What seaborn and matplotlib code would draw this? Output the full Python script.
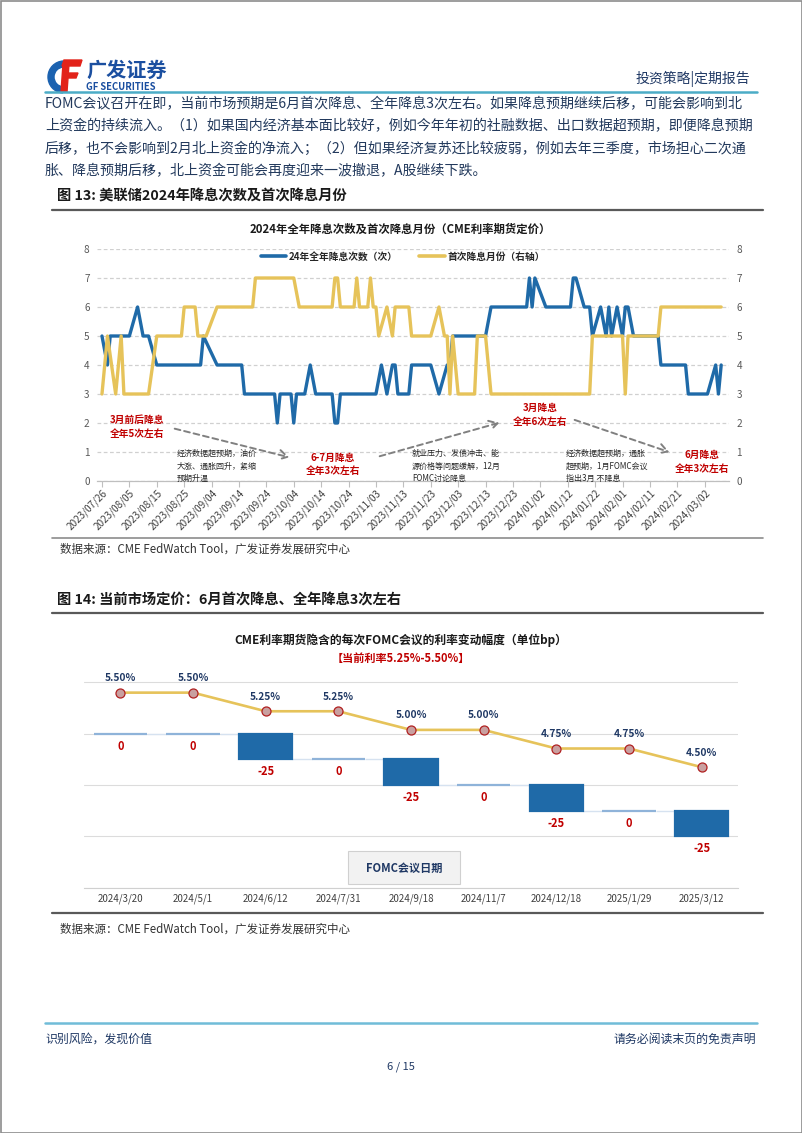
import numpy as np
import pandas as pd
import matplotlib
matplotlib.use('Agg')
import matplotlib.pyplot as plt
import matplotlib.dates as mdates
import matplotlib.patches as patches
from matplotlib.lines import Line2D
import seaborn as sns

W,H=802,1133
BLUE='#1f6aa8' ; GOLD='#e6c35a' ; RED='#c00000' ; NAVY='#1f3864' ; TXT='#22395c'

# ---- fig 13: vertices
cut_dates=['2023-07-26','2023-07-28','2023-07-29','2023-08-05','2023-08-08','2023-08-10','2023-08-12','2023-08-15',
           '2023-08-31','2023-09-01','2023-09-06','2023-09-15','2023-09-16','2023-09-27','2023-09-28','2023-09-29',
           '2023-10-03','2023-10-04','2023-10-05','2023-10-08','2023-10-10','2023-10-12','2023-10-18','2023-10-19',
           '2023-10-20','2023-10-21','2023-11-03','2023-11-05','2023-11-07','2023-11-09','2023-11-10','2023-11-11',
           '2023-11-15','2023-11-16','2023-11-23','2023-11-26','2023-11-29','2023-11-30','2023-12-01','2023-12-13',
           '2023-12-15','2023-12-28','2023-12-29','2023-12-30','2023-12-31','2024-01-04','2024-01-13','2024-01-14',
           '2024-01-15','2024-01-18','2024-01-20','2024-01-21','2024-01-24','2024-01-26','2024-01-27','2024-01-28',
           '2024-01-30','2024-02-01','2024-02-02','2024-02-03','2024-02-05','2024-02-14','2024-02-15','2024-02-24',
           '2024-02-25','2024-03-03','2024-03-06','2024-03-07','2024-03-08']
cut_counts=[5,4,5,5,6,5,5,4,
            4,5,4,4,3,3,2,3,
            3,2,3,3,4,3,3,2,
            2,3,3,4,3,4,4,3,
            3,4,4,3,4,4,5,5,
            6,6,7,6,7,6,6,7,
            7,6,6,5,6,5,6,5,
            6,5,6,6,5,5,4,4,
            3,3,4,3,4]
month_dates=['2023-07-26','2023-07-28','2023-07-31','2023-08-02','2023-08-03','2023-08-12','2023-08-15','2023-08-24',
             '2023-08-25','2023-08-29','2023-08-30','2023-09-02','2023-09-06','2023-09-19','2023-09-20','2023-10-04',
             '2023-10-06','2023-10-18','2023-10-19','2023-10-20','2023-10-21','2023-10-26','2023-10-27','2023-10-28',
             '2023-10-31','2023-11-01','2023-11-02','2023-11-03','2023-11-04','2023-11-07','2023-11-09','2023-11-10',
             '2023-11-15','2023-11-16','2023-11-23','2023-11-26','2023-11-28','2023-11-29','2023-11-30','2023-12-01',
             '2023-12-03','2023-12-09','2023-12-10','2023-12-13','2023-12-15','2024-01-20','2024-01-21','2024-02-01',
             '2024-02-02','2024-02-03','2024-02-14','2024-02-15','2024-03-08']
month_vals=[3,5,3,5,3,3,5,5,
            6,6,5,5,6,6,7,7,
            6,6,7,7,6,6,7,6,
            6,7,6,6,5,6,5,6,
            6,5,5,6,5,5,3,5,
            3,3,5,5,3,3,5,5,
            3,5,5,6,6]
cut_label='24年全年降息次数（次）'
month_label='首次降息月份（右轴）'

# ---- fig 14
fomc_dates=['2024/3/20','2024/5/1','2024/6/12','2024/7/31','2024/9/18','2024/11/7','2024/12/18','2025/1/29','2025/3/12']
bp_change=[0,0,-25,0,-25,0,-25,0,-25]
rates=[5.50,5.50,5.25,5.25,5.00,5.00,4.75,4.75,4.50]

body=['FOMC会议召开在即，当前市场预期是6月首次降息、全年降息3次左右。如果降息预期继续后移，可能会影响到北',
      '上资金的持续流入。（1）如果国内经济基本面比较好，例如今年年初的社融数据、出口数据超预期，即便降息预期',
      '后移，也不会影响到2月北上资金的净流入；（2）但如果经济复苏还比较疲弱，例如去年三季度，市场担心二次通',
      '胀、降息预期后移，北上资金可能会再度迎来一波撤退，A股继续下跌。']

sns.set_style('white')
plt.rcParams['font.family']=['Noto Sans CJK SC','DejaVu Sans']

fig=plt.figure(figsize=(W/100,H/100),dpi=100)

# ================= chart 1
ax1=fig.add_axes([96.5/W,1-481/H,(729.4-96.5)/W,(481-249)/H])
ax1.set_facecolor('none')
cut_df=pd.DataFrame({'date':pd.to_datetime(cut_dates),'n':cut_counts})
mon_df=pd.DataFrame({'date':pd.to_datetime(month_dates),'m':month_vals})
sns.lineplot(data=cut_df,x='date',y='n',ax=ax1,color=BLUE,lw=2.4,estimator=None,sort=False,legend=False)
ax1b=ax1.twinx()
sns.lineplot(data=mon_df,x='date',y='m',ax=ax1b,color=GOLD,lw=2.4,estimator=None,sort=False,legend=False)
t0=pd.Timestamp('2023-07-26')
for a in (ax1,ax1b):
    a.set_ylim(0,8) ; a.set_yticks(range(9)) ; a.set_ylabel('') ; a.set_xlabel('')
    for s in ('left','right','top'): a.spines[s].set_visible(False)
    a.spines['bottom'].set_color('#bfbfbf')
    a.tick_params(axis='y',length=0,labelsize=7.2,labelcolor='#595959',pad=5)
ax1.set_xlim(t0-pd.Timedelta(days=2),t0+pd.Timedelta(days=229))
ax1.yaxis.grid(True,ls=(0,(3,2)),color='#d0d0d0',lw=0.9) ; ax1.xaxis.grid(False)
ax1.set_axisbelow(True)
ticks=pd.date_range('2023-07-26','2024-03-02',freq='10D')
ax1.set_xticks(ticks)
ax1.xaxis.set_major_formatter(mdates.DateFormatter('%Y/%m/%d'))
ax1.tick_params(axis='x',length=4,color='#bfbfbf',labelsize=7.2,labelcolor='#404040',pad=1,bottom=True)
for lb in ax1.get_xticklabels():
    lb.set_rotation(45) ; lb.set_ha('right') ; lb.set_va('top') ; lb.set_rotation_mode('anchor')
hd=[Line2D([],[],color=BLUE,lw=2.6),Line2D([],[],color=GOLD,lw=2.6)]
ax1.legend(hd,[cut_label,month_label],loc='center',bbox_to_anchor=(0.484,0.966),ncol=2,frameon=False,
           prop={'size':7,'weight':'bold'},handlelength=2.6,columnspacing=2.2,handletextpad=0.3)

# ================= chart 2
ax2=fig.add_axes([84/W,1-887.7/H,(738-84)/W,(887.7-660)/H])
ax2.set_facecolor('none')
xs=np.arange(len(fomc_dates))
level=np.concatenate([[0],np.cumsum(bp_change)[:-1]])
bw=0.73
ends=level+np.array(bp_change)
ax2.hlines(ends[:-1],xs[:-1]+bw/2,xs[1:]-bw/2,color='#d6e2f0',lw=1.0,zorder=2)
ax2.bar(xs,bp_change,bottom=level,width=bw,color=BLUE,
        edgecolor=['#8fb3d9' if c==0 else BLUE for c in bp_change],lw=1.6,zorder=3)
for i,c in enumerate(bp_change):
    ax2.annotate(str(c),(i,ends[i]),xytext=(0,-9),textcoords='offset points',ha='center',va='center',
                 fontsize=8,weight='bold',color=RED)
ax2.set_xlim(-0.5,len(fomc_dates)-0.5) ; ax2.set_ylim(-150,71.7)
ax2.set_yticks([-150,-100,-50,0,50]) ; ax2.set_yticklabels([])
ax2.yaxis.grid(True,color='#dcdcdc',lw=0.8) ; ax2.set_axisbelow(True)
ax2.set_xticks(xs) ; ax2.set_xticklabels(fomc_dates)
ax2.tick_params(axis='x',length=0,labelsize=7,labelcolor='#404040',pad=4)
ax2.tick_params(axis='y',length=0)
for s in ('left','right','top'): ax2.spines[s].set_visible(False)
ax2.spines['bottom'].set_color('#d0d0d0')
ax2b=ax2.twinx()
sns.lineplot(x=xs,y=rates,ax=ax2b,color=GOLD,lw=1.9,marker='o',markersize=6.5,markerfacecolor='#c9a0a0',
             markeredgecolor='#b02020',markeredgewidth=0.9,legend=False)
ax2b.set_ylim(2.882,5.938) ; ax2b.axis('off')
for i,r in enumerate(rates):
    ax2b.annotate(f'{r:.2f}%',(i,r),xytext=(0,10.5),textcoords='offset points',ha='center',va='center',
                  fontsize=7.3,weight='bold',color=NAVY)

# ================= page overlay (pixel coords, y down)
ov=fig.add_axes([0,0,1,1],zorder=10)
ov.set_xlim(0,W) ; ov.set_ylim(H,0) ; ov.axis('off')
ov.add_patch(patches.Rectangle((0.5,0.5),W-1,H-1,fill=False,ec='#8c8c8c',lw=1.2))
# logo
ov.add_patch(patches.Wedge((64,77),16,95,268,width=6,color='#1b62b0'))
ov.add_patch(patches.Polygon([(64,60),(82,60),(80,66),(62,66)],color='#e2231a'))
ov.add_patch(patches.Polygon([(63,64),(69,64),(67,92),(61,92)],color='#e2231a'))
ov.add_patch(patches.Polygon([(65,73),(78,73),(76,78),(64,78)],color='#e2231a'))
ov.text(86,70,'广发证券',fontsize=14.5,weight='heavy',color='#1b4fa0',va='center')
ov.text(86,87.5,'GF SECURITIES',fontsize=6.8,weight='bold',color='#1b4fa0',va='center')
ov.text(750,79,'投资策略|定期报告',fontsize=10,color=NAVY,ha='right',va='center')
ov.plot([45,757],[92,92],color='#4bacc6',lw=1.8)
for k,ln in enumerate(body):
    ov.text(45,104+22.5*k,ln,fontsize=10.1,color=TXT,va='center')
# captions
ov.text(57,197,'图 13: 美联储2024年降息次数及首次降息月份',fontsize=10.3,weight='bold',color='#1a1a1a',va='center')
ov.plot([52,763],[210,210],color='#595959',lw=1.6)
ov.text(400,229,'2024年全年降息次数及首次降息月份（CME利率期货定价）',fontsize=8.2,weight='bold',color='#1a1a1a',ha='center',va='center')
ov.plot([52,763],[538,538],color='#8c8c8c',lw=1.2)
ov.text(60,549,'数据来源：CME FedWatch Tool，广发证券发展研究中心',fontsize=8.3,color='#333333',va='center')
ov.text(57,601,'图 14: 当前市场定价：6月首次降息、全年降息3次左右',fontsize=10.3,weight='bold',color='#1a1a1a',va='center')
ov.plot([52,763],[613,613],color='#595959',lw=1.6)
ov.text(401,640,'CME利率期货隐含的每次FOMC会议的利率变动幅度（单位bp）',fontsize=8.5,weight='bold',color='#1a1a1a',ha='center',va='center')
ov.text(401,658,'【当前利率5.25%-5.50%】',fontsize=8,weight='bold',color=RED,ha='center',va='center')
ov.add_patch(patches.Rectangle((348,851),112,33,fc='#f2f2f2',ec='#d0d0d0',lw=0.8))
ov.text(404,868,'FOMC会议日期',fontsize=8,weight='bold',color=NAVY,ha='center',va='center')
ov.plot([52,763],[913,913],color='#595959',lw=1.6)
ov.text(60,929,'数据来源：CME FedWatch Tool，广发证券发展研究中心',fontsize=8.3,color='#333333',va='center')
# chart 1 annotations
red_notes=[(137,420,'3月前后降息'),(137,434,'全年5次左右'),(333,458,'6-7月降息'),(333,471,'全年3次左右'),
           (540,408,'3月降息'),(540,422,'全年6次左右'),(702,455,'6月降息'),(702,469,'全年3次左右')]
for x,y,s in red_notes:
    ov.text(x,y,s,fontsize=7,weight='bold',style='italic',color=RED,ha='center',va='center')
black_notes=[(177,'经济数据超预期，油价\n大涨、通胀回升，紧缩\n预期升温'),
             (412,'就业压力、发债冲击、能\n源价格等问题缓解，12月\nFOMC讨论降息'),
             (566,'经济数据超预期，通胀\n超预期，1月FOMC会议\n指出3月 不降息')]
for x,s in black_notes:
    ov.text(x,449,s,fontsize=5.8,color='#262626',ha='left',va='top',linespacing=1.5)
for (x0,y0),(x1,y1) in [((172,428),(292,458)),((377,457),(502,422)),((572,419),(672,453))]:
    ov.annotate('',xy=(x1,y1),xytext=(x0,y0),
                arrowprops=dict(arrowstyle='->,head_length=0.6,head_width=0.35',ls=(0,(3,2)),color='#808080',lw=1.4))
# footer
ov.plot([45,757],[1023,1023],color='#70bcd8',lw=1.8)
ov.text(45,1039,'识别风险，发现价值',fontsize=8.6,color=NAVY,va='center')
ov.text(756,1039,'请务必阅读末页的免责声明',fontsize=8.6,color=NAVY,ha='right',va='center')
ov.text(401,1067,'6 / 15',fontsize=8,color=NAVY,ha='center',va='center')

fig.savefig('out.png',dpi=100)
